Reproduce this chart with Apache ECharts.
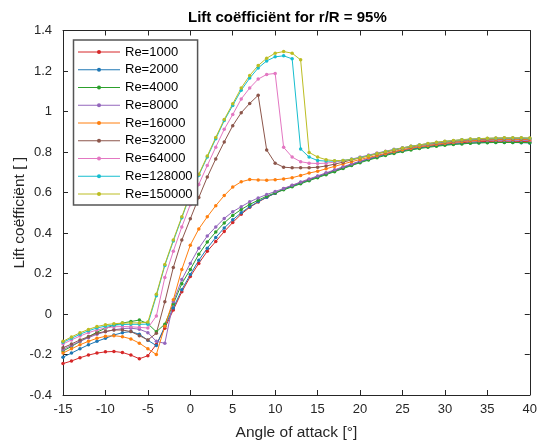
<!DOCTYPE html>
<html>
<head>
<meta charset="utf-8">
<style>
  html, body { margin: 0; padding: 0; background: #fff; }
  #chart { width: 540px; height: 446px; }
</style>
<script src="https://cdn.jsdelivr.net/npm/echarts@6/dist/echarts.min.js"></script>
</head>
<body>
<div id="chart"></div>
<script>
// Angle of attack, one sample per degree from -15 to 40
const alpha = [];
for (let a = -15; a <= 40; a++) alpha.push(a);

const xTicks = [-15, -10, -5, 0, 5, 10, 15, 20, 25, 30, 35, 40];
const yTicks = [-0.4, -0.2, 0, 0.2, 0.4, 0.6, 0.8, 1, 1.2, 1.4];

const reynolds = ['Re=1000', 'Re=2000', 'Re=4000', 'Re=8000', 'Re=16000',
                  'Re=32000', 'Re=64000', 'Re=128000', 'Re=150000'];

const colors = ['#d62728', '#1f77b4', '#2ca02c', '#9467bd', '#ff7f0e',
                '#8c564b', '#e377c2', '#17becf', '#bcbd22'];

// Lift coefficient per Reynolds number (alpha -15..-5 | -4..10 | 11..40)
const cl1000 = [
  -0.245, -0.232, -0.216, -0.203, -0.193, -0.187, -0.185, -0.19, -0.203, -0.221, -0.206,
  -0.15, -0.07, 0.02, 0.11, 0.185, 0.25, 0.31, 0.358, 0.407, 0.452, 0.493, 0.527, 0.553, 0.576, 0.596,
  0.618, 0.634, 0.649, 0.664, 0.679, 0.694, 0.709, 0.724, 0.739, 0.753, 0.766, 0.778, 0.789, 0.799, 0.808,
  0.816, 0.823, 0.829, 0.834, 0.839, 0.843, 0.846, 0.849, 0.851, 0.852, 0.853, 0.853, 0.853, 0.852, 0.851
];
const cl2000 = [
  -0.213, -0.193, -0.172, -0.152, -0.135, -0.12, -0.104, -0.092, -0.087, -0.1, -0.13,
  -0.156, -0.06, 0.03, 0.12, 0.195, 0.265, 0.325, 0.378, 0.425, 0.465, 0.5, 0.53, 0.555, 0.577, 0.596,
  0.616, 0.631, 0.646, 0.661, 0.676, 0.691, 0.706, 0.721, 0.736, 0.75, 0.763, 0.775, 0.786, 0.796, 0.805,
  0.813, 0.82, 0.826, 0.831, 0.836, 0.839, 0.842, 0.844, 0.846, 0.847, 0.847, 0.847, 0.847, 0.846, 0.845
];
const cl4000 = [
  -0.183, -0.16, -0.136, -0.112, -0.09, -0.07, -0.056, -0.045, -0.037, -0.03, -0.048,
  -0.088, -0.05, 0.05, 0.15, 0.22, 0.295, 0.355, 0.405, 0.45, 0.487, 0.516, 0.541, 0.562, 0.582, 0.598,
  0.613, 0.628, 0.643, 0.658, 0.673, 0.688, 0.703, 0.718, 0.733, 0.747, 0.76, 0.772, 0.783, 0.793, 0.802,
  0.81, 0.817, 0.823, 0.828, 0.833, 0.837, 0.84, 0.843, 0.845, 0.846, 0.847, 0.847, 0.847, 0.847, 0.846
];
const cl8000 = [
  -0.175, -0.155, -0.135, -0.117, -0.1, -0.088, -0.078, -0.072, -0.07, -0.075, -0.092,
  -0.135, -0.145, 0.06, 0.17, 0.25, 0.325, 0.385, 0.43, 0.472, 0.505, 0.53, 0.554, 0.573, 0.59, 0.605,
  0.62, 0.636, 0.652, 0.667, 0.682, 0.697, 0.712, 0.727, 0.741, 0.755, 0.768, 0.78, 0.791, 0.801, 0.81,
  0.818, 0.826, 0.832, 0.838, 0.843, 0.847, 0.851, 0.854, 0.856, 0.857, 0.858, 0.858, 0.858, 0.858, 0.857
];
const cl16000 = [
  -0.193, -0.172, -0.152, -0.135, -0.12, -0.11, -0.107, -0.112, -0.123, -0.144, -0.172,
  -0.2, -0.06, 0.07, 0.22, 0.34, 0.42, 0.48, 0.535, 0.585, 0.627, 0.653, 0.664, 0.662, 0.661, 0.663,
  0.667, 0.673, 0.684, 0.696, 0.705, 0.717, 0.729, 0.741, 0.752, 0.763, 0.773, 0.783, 0.793, 0.802, 0.811,
  0.819, 0.826, 0.832, 0.838, 0.843, 0.848, 0.852, 0.855, 0.858, 0.86, 0.861, 0.862, 0.862, 0.862, 0.861
];
const cl32000 = [
  -0.167, -0.148, -0.128, -0.112, -0.095, -0.086, -0.079, -0.079, -0.087, -0.107, -0.128,
  -0.095, 0.06, 0.23, 0.365, 0.47, 0.575, 0.676, 0.766, 0.85, 0.93, 0.994, 1.04, 1.08, 0.81, 0.745,
  0.725, 0.722, 0.722, 0.722, 0.725, 0.731, 0.74, 0.75, 0.761, 0.771, 0.781, 0.791, 0.8, 0.809, 0.818,
  0.825, 0.832, 0.838, 0.844, 0.849, 0.853, 0.857, 0.86, 0.862, 0.864, 0.865, 0.866, 0.866, 0.866, 0.865
];
const cl64000 = [
  -0.148, -0.128, -0.109, -0.092, -0.079, -0.069, -0.063, -0.062, -0.063, -0.066, -0.069,
  -0.01, 0.18, 0.31, 0.43, 0.54, 0.64, 0.733, 0.824, 0.912, 0.985, 1.062, 1.116, 1.16, 1.183, 1.188,
  0.823, 0.775, 0.752, 0.745, 0.743, 0.745, 0.75, 0.757, 0.765, 0.775, 0.785, 0.795, 0.804, 0.813, 0.821,
  0.828, 0.835, 0.841, 0.847, 0.852, 0.856, 0.86, 0.863, 0.865, 0.867, 0.868, 0.869, 0.869, 0.869, 0.868
];
const cl128000 = [
  -0.14, -0.12, -0.1, -0.083, -0.069, -0.06, -0.055, -0.052, -0.051, -0.051, -0.05,
  0.09, 0.24, 0.36, 0.475, 0.59, 0.685, 0.775, 0.865, 0.955, 1.03, 1.105, 1.165, 1.215, 1.25, 1.27,
  1.275, 1.26, 0.815, 0.775, 0.758, 0.755, 0.755, 0.758, 0.764, 0.773, 0.783, 0.793, 0.803, 0.812, 0.82,
  0.828, 0.835, 0.841, 0.847, 0.852, 0.856, 0.86, 0.863, 0.865, 0.867, 0.868, 0.869, 0.869, 0.869, 0.868
];
const cl150000 = [
  -0.135, -0.113, -0.093, -0.076, -0.062, -0.053, -0.048, -0.045, -0.044, -0.044, -0.04,
  0.097, 0.245, 0.366, 0.48, 0.595, 0.69, 0.78, 0.872, 0.961, 1.038, 1.116, 1.178, 1.227, 1.263, 1.288,
  1.296, 1.288, 1.255, 0.798, 0.775, 0.762, 0.757, 0.758, 0.763, 0.771, 0.781, 0.792, 0.802, 0.811, 0.82,
  0.828, 0.835, 0.842, 0.848, 0.853, 0.857, 0.861, 0.864, 0.866, 0.868, 0.869, 0.87, 0.87, 0.87, 0.869
];

const clSets = [cl1000, cl2000, cl4000, cl8000, cl16000, cl32000, cl64000, cl128000, cl150000];

const axisColor = '#262626';
const font = 'Liberation Sans, Arial, Helvetica, sans-serif';

const series = clSets.map((vals, i) => ({
  name: reynolds[i],
  type: 'line',
  xAxisIndex: 0,
  yAxisIndex: 0,
  data: alpha.map((a, k) => [a, vals[k]]),
  symbol: 'circle',
  symbolSize: 3.5,
  showSymbol: true,
  lineStyle: { width: 1, color: colors[i] },
  itemStyle: { color: colors[i] },
  emphasis: { disabled: true },
  animation: false
}));

const baseX = {
  type: 'value',
  min: xTicks[0],
  max: xTicks[xTicks.length - 1],
  interval: 5,
  splitLine: { show: false },
  axisLine: { show: true, onZero: false, lineStyle: { color: axisColor, width: 1 } },
  axisTick: { show: true, inside: true, length: 5, lineStyle: { color: axisColor } }
};
const baseY = {
  type: 'value',
  min: yTicks[0],
  max: yTicks[yTicks.length - 1],
  interval: 0.2,
  splitLine: { show: false },
  axisLine: { show: true, onZero: false, lineStyle: { color: axisColor, width: 1 } },
  axisTick: { show: true, inside: true, length: 5, lineStyle: { color: axisColor } }
};

const chart = echarts.init(document.getElementById('chart'), null, { renderer: 'canvas' });
chart.setOption({
  animation: false,
  backgroundColor: '#ffffff',
  textStyle: { fontFamily: font },
  color: colors,
  title: {
    text: 'Lift coëfficiënt for r/R = 95%',
    left: 183,
    top: 5,
    textStyle: { fontFamily: font, fontSize: 15, fontWeight: 'bold', color: '#000' }
  },
  grid: { left: 63, right: 7, top: 30.5, bottom: 47.5, containLabel: false },
  xAxis: [
    Object.assign({}, baseX, {
      position: 'bottom',
      name: 'Angle of attack [°]',
      nameLocation: 'middle',
      nameGap: 30,
      nameMoveOverlap: false,
      nameTextStyle: { fontFamily: font, fontSize: 15.5, color: axisColor },
      axisLabel: { color: axisColor, fontFamily: font, fontSize: 13, margin: 8 }
    }),
    Object.assign({}, baseX, { position: 'top', axisLabel: { show: false } })
  ],
  yAxis: [
    Object.assign({}, baseY, {
      position: 'left',
      name: 'Lift coëfficiënt [ ]',
      nameLocation: 'middle',
      nameGap: 35,
      nameMoveOverlap: false,
      nameTextStyle: { fontFamily: font, fontSize: 15.5, color: axisColor },
      axisLabel: {
        color: axisColor, fontFamily: font, fontSize: 13, margin: 11,
        formatter: v => {
          const r = Math.round(v * 10) / 10;
          return r === 0 ? '0' : String(r);
        }
      }
    }),
    Object.assign({}, baseY, { position: 'right', axisLabel: { show: false } })
  ],
  legend: {
    orient: 'vertical',
    left: 73.5,
    top: 40,
    padding: [5, 5, 4, 4],
    itemGap: 3.75,
    itemWidth: 42,
    itemHeight: 5,
    backgroundColor: '#ffffff',
    borderColor: '#555555',
    borderWidth: 1.5,
    borderRadius: 0,
    selectedMode: false,
    lineStyle: { width: 1 },
    data: reynolds,
    textStyle: { fontFamily: font, fontSize: 13, color: '#000', lineHeight: 14 }
  },
  series: series
});
</script>
</body>
</html>
